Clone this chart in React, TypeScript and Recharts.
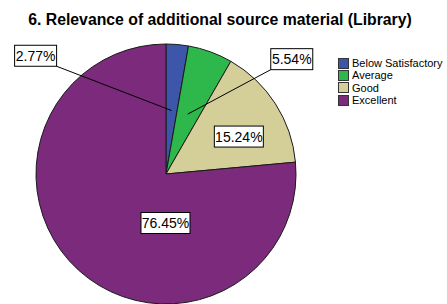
import React from 'react';
import { PieChart, Pie, Cell, Legend } from 'recharts';

const categories = ['Below Satisfactory', 'Average', 'Good', 'Excellent'];
const percents = [2.77, 5.54, 15.24, 76.45];
const colors = ['#3E56AA', '#2EB74B', '#D4CF98', '#7B2A7C'];
const titleText = '6. Relevance of additional source material (Library)';

const data = categories.map((name, i) => ({ name, value: percents[i] }));

// label layout: box center in polar coords relative to pie (angle deg, radius fraction),
// and optional leader line anchored at a box corner (dx, dy signs) to a point at
// fraction of radius along the slice's mid angle
const labelLayout = [
  { angle: 137.8, rf: 1.354, corner: [1, 1], lineRf: 0.49 },
  { angle: 42.4, rf: 1.31, corner: [-1, 1], lineRf: 0.49 },
  { angle: 27.2, rf: 0.63, corner: null, lineRf: 0 },
  { angle: -90.6, rf: 0.377, corner: null, lineRf: 0 },
];

const RAD = Math.PI / 180;
const FONT = '"Liberation Sans", Arial, sans-serif';

const renderLabel = (props: any) => {
  const { cx, cy, midAngle, outerRadius, index } = props;
  const L = labelLayout[index];
  const text = percents[index].toFixed(2) + '%';
  const bx = cx + outerRadius * L.rf * Math.cos(L.angle * RAD);
  const by = cy - outerRadius * L.rf * Math.sin(L.angle * RAD);
  const fs = 14;
  const tw = text.length * fs * 0.5 + 1;
  const w = tw + 6;
  const h = 21;
  let line = null;
  if (L.corner) {
    const px = cx + outerRadius * L.lineRf * Math.cos(midAngle * RAD);
    const py = cy - outerRadius * L.lineRf * Math.sin(midAngle * RAD);
    const sx = bx + (L.corner[0] * w) / 2;
    const sy = by + (L.corner[1] * h) / 2;
    line = <line x1={sx} y1={sy} x2={px} y2={py} stroke="#000" strokeWidth={1} />;
  }
  return (
    <g key={'lbl' + index}>
      {line}
      <rect x={bx - w / 2} y={by - h / 2} width={w} height={h} fill="#fff" stroke="#000" strokeWidth={1} />
      <text x={bx} y={by} textAnchor="middle" dominantBaseline="central" fontSize={fs} fontFamily={FONT} fill="#000">
        {text}
      </text>
    </g>
  );
};

const LegendContent = () => (
  <div style={{ fontFamily: FONT, fontSize: 11, color: '#000', lineHeight: '12.4px' }}>
    {categories.map((c, i) => (
      <div key={c} style={{ display: 'flex', alignItems: 'center', height: 12.4 }}>
        <span
          style={{
            display: 'inline-block',
            width: 9,
            height: 9,
            background: colors[i],
            border: '1px solid #333',
            marginRight: 3,
          }}
        />
        <span>{c}</span>
      </div>
    ))}
  </div>
);

export default function App() {
  return (
    <div style={{ position: 'absolute', left: 0, top: 0, width: 447, height: 304, background: '#fff', overflow: 'hidden' }}>
      <div
        style={{
          position: 'absolute',
          left: 0,
          top: 10,
          width: 440,
          textAlign: 'center',
          fontFamily: FONT,
          fontWeight: 'bold',
          fontSize: 15.8,
          color: '#000',
          lineHeight: '20px',
          zIndex: 2,
        }}
      >
        {titleText}
      </div>
      <PieChart width={447} height={304} margin={{ top: 0, right: 0, bottom: 0, left: 0 }}>
        <Pie
          data={data}
          dataKey="value"
          nameKey="name"
          cx={166}
          cy={174}
          outerRadius={130}
          startAngle={90}
          endAngle={-270}
          stroke="#1a1a1a"
          strokeWidth={1}
          label={renderLabel}
          labelLine={false}
          isAnimationActive={false}
        >
          {data.map((d, i) => (
            <Cell key={d.name} fill={colors[i]} />
          ))}
        </Pie>
        <Legend
          content={<LegendContent />}
          wrapperStyle={{ position: 'absolute', left: 338, top: 57, width: 110, bottom: 'auto' }}
        />
      </PieChart>
    </div>
  );
}
